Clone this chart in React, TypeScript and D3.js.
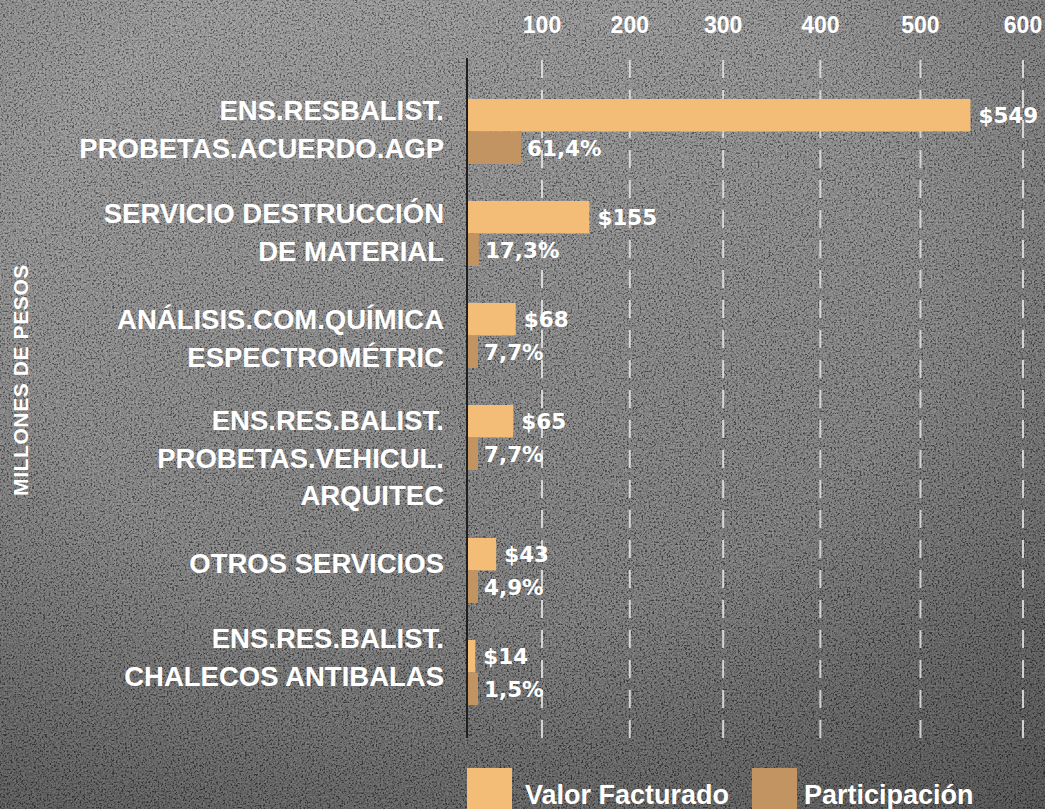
import React, { useEffect, useRef } from "react";
import * as d3 from "d3";

const categories: string[][] = [
  ["ENS.RESBALIST.", "PROBETAS.ACUERDO.AGP"],
  ["SERVICIO DESTRUCCIÓN", "DE MATERIAL"],
  ["ANÁLISIS.COM.QUÍMICA", "ESPECTROMÉTRIC"],
  ["ENS.RES.BALIST.", "PROBETAS.VEHICUL.", "ARQUITEC"],
  ["OTROS SERVICIOS"],
  ["ENS.RES.BALIST.", "CHALECOS ANTIBALAS"],
];
const valorFacturado = [549, 155, 68, 65, 43, 14];
const participacion = [61.4, 17.3, 7.7, 7.7, 4.9, 1.5];
const tickValues = [100, 200, 300, 400, 500, 600];
const seriesNames = ["Valor Facturado", "Participación"];
const axisTitle = "MILLONES DE PESOS";

const W = 1045;
const H = 809;
const COLORS = ["#F3BD78", "#C29462"];
const labelFirstOffset = [11, 12, 16, 15, 25, -2];

const esLocale = d3.formatLocale({ decimal: ",", thousands: ".", grouping: [3], currency: ["$", ""] });
const fmtPct = esLocale.format(".1f");

export default function App() {
  const ref = useRef<SVGSVGElement>(null);

  useEffect(() => {
    const svg = d3.select(ref.current);
    svg.selectAll("*").remove();

    const defs = svg.append("defs");
    const lg = defs.append("linearGradient").attr("id", "bg").attr("x1", 0).attr("y1", 0).attr("x2", 0.3).attr("y2", 1);
    lg.append("stop").attr("offset", "0%").attr("stop-color", "#8a8a8a");
    lg.append("stop").attr("offset", "45%").attr("stop-color", "#727272");
    lg.append("stop").attr("offset", "100%").attr("stop-color", "#555555");
    const rg = defs.append("radialGradient").attr("id", "vig").attr("cx", "0.45").attr("cy", "0.35").attr("r", "0.85");
    rg.append("stop").attr("offset", "50%").attr("stop-color", "#000").attr("stop-opacity", 0);
    rg.append("stop").attr("offset", "100%").attr("stop-color", "#000").attr("stop-opacity", 0.28);
    const f = defs.append("filter").attr("id", "noise").attr("filterUnits", "userSpaceOnUse")
      .attr("x", 0).attr("y", 0).attr("width", W).attr("height", H);
    f.append("feTurbulence").attr("type", "fractalNoise").attr("baseFrequency", "0.55").attr("numOctaves", 3).attr("seed", 7).attr("result", "n");
    f.append("feColorMatrix").attr("in", "n").attr("type", "matrix")
      .attr("values", "1.6 1.6 1.6 0 -1.9  1.6 1.6 1.6 0 -1.9  1.6 1.6 1.6 0 -1.9  0 0 0 0 0.3");

    svg.append("rect").attr("width", W).attr("height", H).attr("fill", "url(#bg)");
    svg.append("rect").attr("width", W).attr("height", H).attr("fill", "#fff").attr("filter", "url(#noise)");
    svg.append("rect").attr("width", W).attr("height", H).attr("fill", "url(#vig)");

    const x0 = 467;
    const x = d3.scalePow().exponent(1.118).domain([0, 600]).range([x0, 1023]);
    const pw = d3.scalePow().exponent(1.25).domain([0, 100]).range([0, 97.5]);
    const barH = 32.5;

    const tops: number[] = [];
    let y = 99;
    categories.forEach((c) => {
      tops.push(y);
      y += 102 + 31 * Math.max(0, c.length - 2);
    });

    const gridTop = 60, gridBottom = 742;
    svg.append("g").selectAll("line").data(tickValues).join("line")
      .attr("x1", (d) => x(d)).attr("x2", (d) => x(d))
      .attr("y1", gridTop).attr("y2", gridBottom)
      .attr("stroke", "#e6e6e6").attr("stroke-opacity", 0.85).attr("stroke-width", 2)
      .attr("stroke-dasharray", "18 12");

    svg.append("g").selectAll("text").data(tickValues).join("text")
      .attr("x", (d) => x(d)).attr("y", 33)
      .attr("text-anchor", "middle")
      .attr("font-family", "'Liberation Sans', Arial, sans-serif").attr("font-weight", "bold")
      .attr("font-size", 23).attr("fill", "#fff")
      .text((d) => String(d));

    const g = svg.append("g");
    valorFacturado.forEach((v, i) => {
      const t = tops[i];
      g.append("rect").attr("x", x0 + 1).attr("y", t).attr("width", x(v) - x0 - 1).attr("height", barH).attr("fill", COLORS[0]);
      const pwid = Math.max(10, pw(participacion[i]));
      g.append("rect").attr("x", x0 + 1).attr("y", t + barH).attr("width", pwid).attr("height", barH).attr("fill", COLORS[1]);
      g.append("text").attr("x", x(v) + 8).attr("y", t + barH / 2 + 8)
        .attr("font-family", "'DejaVu Sans', Verdana, sans-serif").attr("font-weight", "bold")
        .attr("font-size", 21.5).attr("fill", "#fff").text("$" + v);
      g.append("text").attr("x", x0 + 1 + pwid + 6).attr("y", t + barH * 1.5 + 8)
        .attr("font-family", "'DejaVu Sans', Verdana, sans-serif").attr("font-weight", "bold")
        .attr("font-size", 21.5).attr("fill", "#fff").text(fmtPct(participacion[i]) + "%");
      categories[i].forEach((line, k) => {
        g.append("text").attr("x", 444).attr("y", t + labelFirstOffset[i] + k * 37.5 + 10)
          .attr("text-anchor", "end")
          .attr("font-family", "'Liberation Sans', Arial, sans-serif").attr("font-weight", "bold")
          .attr("font-size", 27.5).attr("fill", "#fff").text(line);
      });
    });

    svg.append("line").attr("x1", x0).attr("x2", x0).attr("y1", 58).attr("y2", 738)
      .attr("stroke", "#1e1e1e").attr("stroke-width", 2);

    svg.append("text").attr("transform", "translate(28,380) rotate(-90)")
      .attr("text-anchor", "middle")
      .attr("font-family", "'Liberation Sans', Arial, sans-serif").attr("font-weight", "bold")
      .attr("font-size", 21).attr("letter-spacing", 0.6).attr("fill", "#fff").text(axisTitle);

    const legX = [467, 752];
    const legTextX = [525, 804];
    seriesNames.forEach((n, i) => {
      svg.append("rect").attr("x", legX[i]).attr("y", 768).attr("width", 45).attr("height", 50).attr("fill", COLORS[i]);
      svg.append("text").attr("x", legTextX[i]).attr("y", 804)
        .attr("font-family", "'Liberation Sans', Arial, sans-serif").attr("font-weight", "bold")
        .attr("font-size", 27).attr("fill", "#fff").text(n);
    });
  }, []);

  return (
    <svg ref={ref} width={W} height={H} style={{ position: "absolute", left: 0, top: 0, display: "block" }} />
  );
}
